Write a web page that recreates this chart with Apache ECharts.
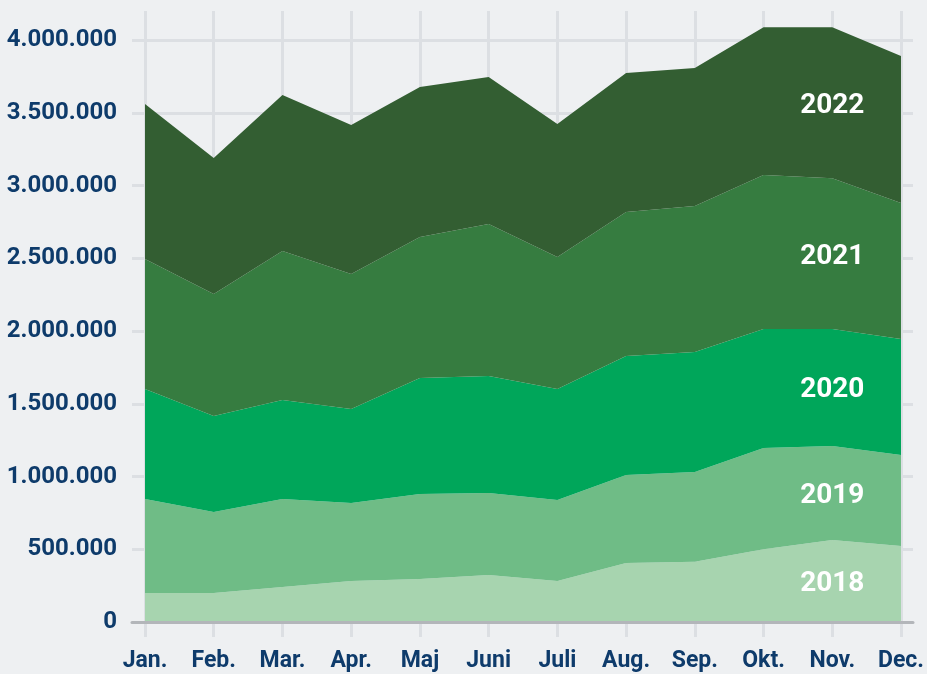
<!DOCTYPE html>
<html>
<head>
<meta charset="utf-8">
<script src="https://cdn.jsdelivr.net/npm/echarts@6/dist/echarts.min.js"></script>
<style>
  html, body { margin: 0; padding: 0; background: #eef0f2; }
  #chart { width: 927px; height: 674px; }
</style>
</head>
<body>
<div id="chart"></div>
<script>
// kategorier (måneder)
const months = ['Jan.', 'Feb.', 'Mar.', 'Apr.', 'Maj', 'Juni', 'Juli', 'Aug.', 'Sep.', 'Okt.', 'Nov.', 'Dec.']

// værdier pr. år
const y2018 = [200000, 200000, 240000, 282000, 295000, 323000, 282000, 405000, 415000, 500000, 563000, 522000]
const y2019 = [645000, 556000, 605000, 536000, 585000, 564000, 556000, 605000, 616000, 696000, 647000, 626000]
const y2020 = [756000, 660000, 681000, 646000, 797000, 804000, 763000, 818000, 825000, 818000, 804000, 797000]
const y2021 = [894000, 838000, 1024000, 928000, 969000, 1044000, 908000, 990000, 1003000, 1058000, 1037000, 935000]
const y2022 = [1065000, 935000, 1072000, 1024000, 1031000, 1011000, 914000, 955000, 949000, 1017000, 1038000, 1010000]

const yearNames = ['2018', '2019', '2020', '2021', '2022']
const yearColors = ['#a7d4af', '#6fbc86', '#00a65a', '#367c40', '#335e32']

// y-akse
const yTicks = [0, 500000, 1000000, 1500000, 2000000, 2500000, 3000000, 3500000, 4000000]
const labelMonth = 10 // Nov.

const FONT = 'Roboto, "Noto Sans", sans-serif'
const TEXT_COLOR = '#0e3b6b'
const GRID_COLOR = '#dcdfe3'

const allYears = [y2018, y2019, y2020, y2021, y2022]

// midtpunkt af hvert lag ved label-måneden
const labelPoints = () => {
  let base = 0
  return allYears.map((arr, i) => {
    const v = arr[labelMonth]
    const mid = base + v / 2
    base += v
    return { value: [months[labelMonth], mid], name: yearNames[i] }
  })
}

const formatNumber = (v) => String(v).replace(/\B(?=(\d{3})+(?!\d))/g, '.')

const getOption = () => {
  return {
    backgroundColor: '#eef0f2',
    animation: false,
    grid: [
      // baggrund: vandrette linjer og y-labels
      { left: 132, right: 14, top: 40, bottom: 52 },
      // selve området
      { left: 145, right: 25, top: 11, bottom: 52 },
    ],
    xAxis: [
      {
        gridIndex: 0,
        type: 'value',
        min: 0,
        max: 1,
        z: 3,
        axisLine: { show: true, lineStyle: { color: '#b3b6ba', width: 3 } },
        axisTick: { show: false },
        axisLabel: { show: false },
        splitLine: { show: false },
      },
      {
        gridIndex: 1,
        type: 'category',
        data: months,
        boundaryGap: false,
        axisLine: { show: false },
        axisTick: {
          show: true,
          length: 15,
          interval: 0,
          lineStyle: { color: GRID_COLOR, width: 3 },
        },
        splitLine: {
          show: true,
          interval: 0,
          lineStyle: { color: GRID_COLOR, width: 3 },
        },
        axisLabel: {
          interval: 0,
          margin: 28,
          color: TEXT_COLOR,
          fontFamily: FONT,
          fontWeight: 'bold',
          fontSize: 23,
        },
      },
    ],
    yAxis: [
      {
        gridIndex: 0,
        type: 'value',
        min: yTicks[0],
        max: yTicks[yTicks.length - 1],
        interval: yTicks[1] - yTicks[0],
        axisLine: { show: false },
        axisTick: { show: false },
        splitLine: { show: true, lineStyle: { color: GRID_COLOR, width: 3 } },
        axisLabel: {
          margin: 15,
          color: TEXT_COLOR,
          fontFamily: FONT,
          fontWeight: 'bold',
          fontSize: 24,
          formatter: formatNumber,
        },
      },
      {
        gridIndex: 1,
        type: 'value',
        min: 0,
        max: 4200000,
        show: false,
      },
    ],
    series: [
      ...allYears.map((arr, i) => ({
        name: yearNames[i],
        type: 'line',
        xAxisIndex: 1,
        yAxisIndex: 1,
        stack: 'total',
        data: arr,
        symbol: 'none',
        lineStyle: { width: 0 },
        areaStyle: { color: yearColors[i], opacity: 1 },
        itemStyle: { color: yearColors[i] },
        z: 2,
      })),
      {
        // årstal i lagene
        type: 'scatter',
        xAxisIndex: 1,
        yAxisIndex: 1,
        symbolSize: 0,
        silent: true,
        z: 4,
        itemStyle: { opacity: 1 },
        data: labelPoints(),
        label: {
          show: true,
          position: 'inside',
          offset: [0, 3],
          formatter: (p) => p.name,
          color: '#ffffff',
          opacity: 1,
          fontFamily: FONT,
          fontWeight: 'bold',
          fontSize: 28,
        },
      },
    ],
  }
}

const chart = echarts.init(document.getElementById('chart'))
chart.setOption(getOption())
</script>
</body>
</html>
